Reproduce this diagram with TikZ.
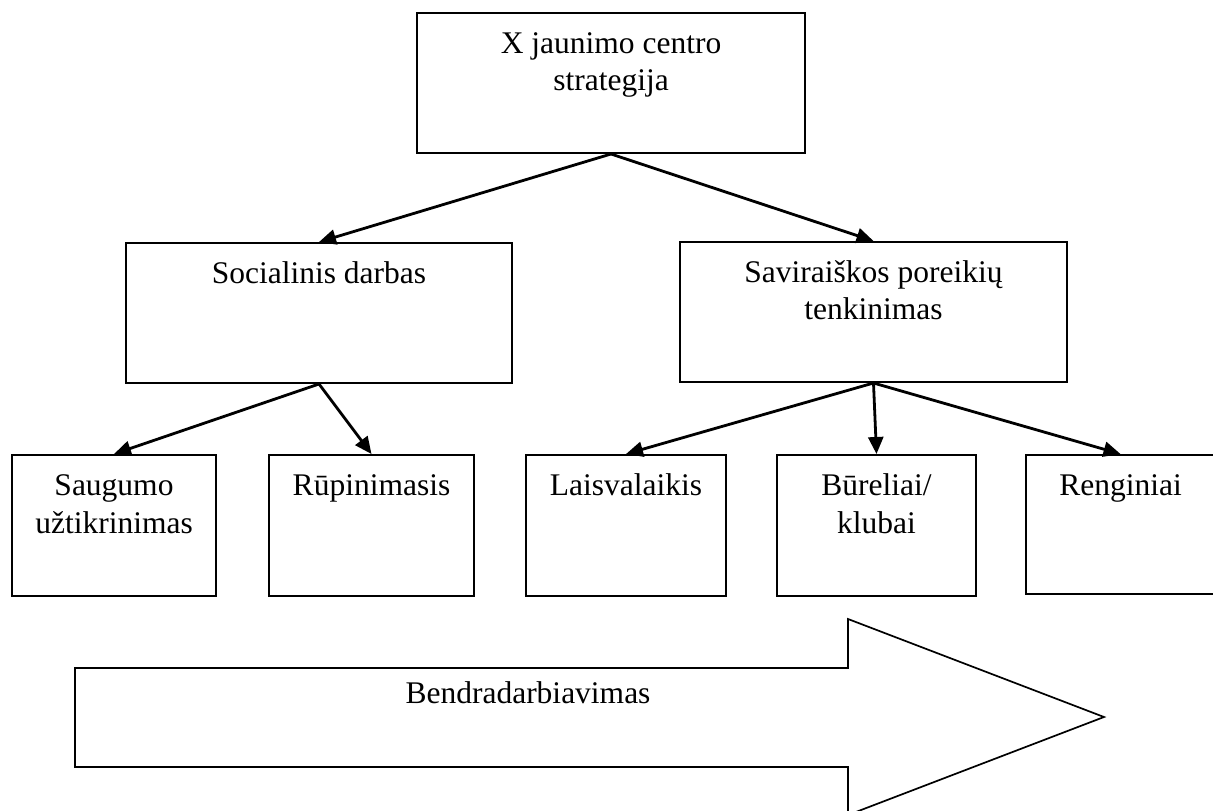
\documentclass[tikz,border=0pt]{standalone}
\usepackage{fontspec}
\setmainfont{Liberation Serif}
\usetikzlibrary{arrows.meta}
\begin{document}
\begin{tikzpicture}[x=1pt,y=-1pt,
  box/.style={draw,line width=2pt,inner sep=0pt,minimum height=140pt},
  lbl/.style={font=\fontsize{31.5pt}{37pt}\selectfont,inner sep=0pt,anchor=base},
  conn/.style={line width=2.8pt,-{Triangle[length=17pt,width=15pt]}},
  bigarrow/.style={draw,line width=1.7pt,line join=miter}]
\useasboundingbox (0,0) rectangle (1213,811);
% boxes
\node[box,minimum width=388pt] (top) at (611,83) {};
\node[box,minimum width=386pt] (soc) at (319,313) {};
\node[box,minimum width=387pt] (sav) at (873.5,312) {};
\node[box,minimum width=204pt,minimum height=141pt] (saug) at (114,525.5) {};
\node[box,minimum width=205pt,minimum height=141pt] (rup) at (371.5,525.5) {};
\node[box,minimum width=200pt,minimum height=141pt] (lais) at (626,525.5) {};
\node[box,minimum width=199pt,minimum height=141pt] (bur) at (876.5,525.5) {};
\node[box,minimum width=189pt,minimum height=139pt] (reng) at (1120.5,524.5) {};
% labels
\node[lbl] (topA) at (611,53) {X jaunimo centro};
\node[lbl] (topB) at (611,90) {strategija};
\node[lbl] (socA) at (319,283) {Socialinis darbas};
\node[lbl] (savA) at (873.5,282) {Saviraiškos poreikių};
\node[lbl] (savB) at (873.5,319) {tenkinimas};
\node[lbl] (saugA) at (114,495) {Saugumo};
\node[lbl] (saugB) at (114,533) {užtikrinimas};
\node[lbl] (rupA) at (371.5,495) {Rūpinimasis};
\node[lbl] (laisA) at (626,495) {Laisvalaikis};
\node[lbl] (burA) at (876.5,495) {Būreliai/};
\node[lbl] (burB) at (876.5,533) {klubai};
\node[lbl] (rengA) at (1120.5,495) {Renginiai};
% connectors
\draw[conn] (top.south) -- (soc.north);
\draw[conn] (top.south) -- (sav.north);
\draw[conn] (soc.south) -- (saug.north);
\draw[conn] (soc.south) -- (rup.north);
\draw[conn] (sav.south) -- (lais.north);
\draw[conn] (sav.south) -- (bur.north);
\draw[conn] (sav.south) -- (reng.north);
% big arrow
\draw[bigarrow] (75,668) -- (848,668) -- (848,619) -- (1104,717) -- (848,815) -- (848,767) -- (75,767) -- cycle;
\node[lbl] (coop) at (528,703) {Bendradarbiavimas};
\end{tikzpicture}
\end{document}
